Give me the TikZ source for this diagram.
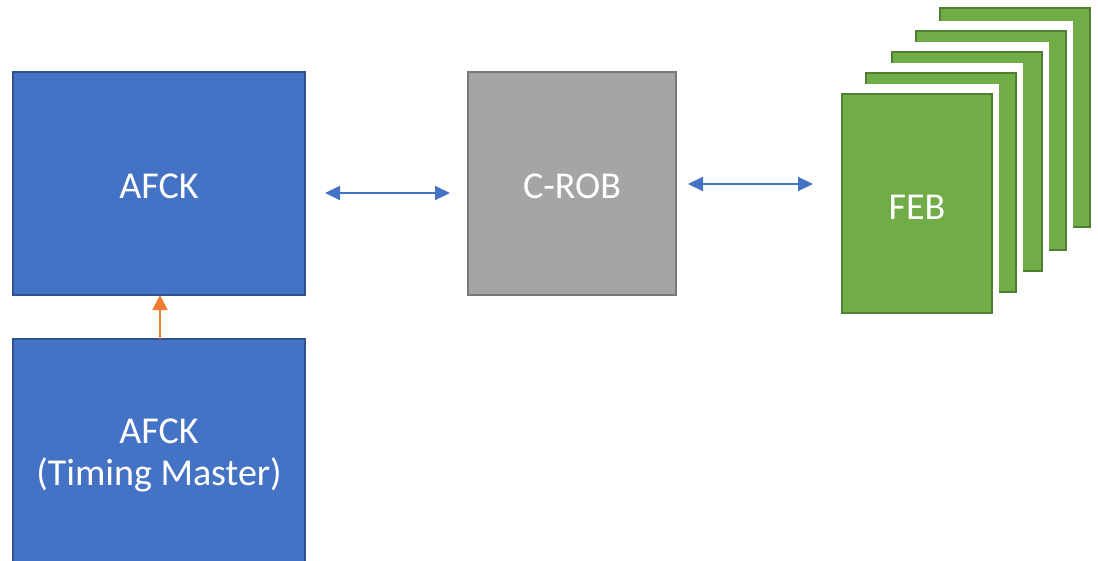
\documentclass[tikz,border=0pt]{standalone}
\usepackage{fontspec}
\setmainfont{Carlito}
\usetikzlibrary{arrows.meta,calc}
\definecolor{bluefill}{HTML}{4472C4}
\definecolor{blueedge}{HTML}{2F528F}
\definecolor{grayfill}{HTML}{A5A5A5}
\definecolor{grayedge}{HTML}{787878}
\definecolor{greenfill}{HTML}{70AD47}
\definecolor{greenedge}{HTML}{507E32}
\definecolor{orangeline}{HTML}{ED7D31}
\definecolor{arrowblue}{HTML}{4472C4}
\tikzset{
  boxtext/.style={text=white,font=\fontsize{38}{42}\selectfont,align=center},
  bluebox/.style={fill=bluefill,draw=blueedge,line width=1.4pt},
  graybox/.style={fill=grayfill,draw=grayedge,line width=1.4pt},
  card/.style={fill=greenfill,draw=greenedge,line width=1.6pt},
  cardgap/.style={fill=white,draw=none},
  linkarrow/.style={draw=arrowblue,line width=2pt,{Triangle[length=15pt,width=14pt]}-{Triangle[length=15pt,width=14pt]}},
  syncarrow/.style={draw=orangeline,line width=2pt,-{Triangle[length=15pt,width=15pt]}}
}
\begin{document}
\begin{tikzpicture}[x=1pt,y=-1pt]
\useasboundingbox (0,0) rectangle (1098,560);
% boxes
\draw[bluebox] (13,72) rectangle (305,295);
\node[boxtext] (afck) at (159,186) {AFCK};
\coordinate (afckE) at (305,193);
\coordinate (afckS) at (160,295);
\draw[bluebox] (13,339) rectangle (305,580);
\node[boxtext] (tm) at (159,455) {AFCK\\(Timing Master)};
\coordinate (tmN) at (160,339);
\draw[graybox] (468,72) rectangle (676,295);
\node[boxtext] (crob) at (572,186) {C-ROB};
\coordinate (crobW) at (468,193);
\coordinate (crobE) at (676,184);
% FEB stack, back to front
\foreach \x/\y in {940/8,916/31,892/52,866/73}{
  \fill[cardgap] (\x-2,\y-10) rectangle (\x+150+7,\y+219+2);
  \draw[card] (\x,\y) rectangle (\x+150,\y+219);
}
\fill[cardgap] (840,84) rectangle (999,315);
\draw[card] (842,94) rectangle (992,313);
\node[boxtext] (feb) at (917,207) {FEB};
\coordinate (febW) at (842,184);
% connectors
\draw[linkarrow] ([xshift=20pt]afckE) -- ([xshift=-18pt]crobW);
\draw[linkarrow] ([xshift=12pt]crobE) -- ([xshift=-29pt]febW);
\draw[syncarrow] (tmN) -- (afckS);
\end{tikzpicture}
\end{document}
